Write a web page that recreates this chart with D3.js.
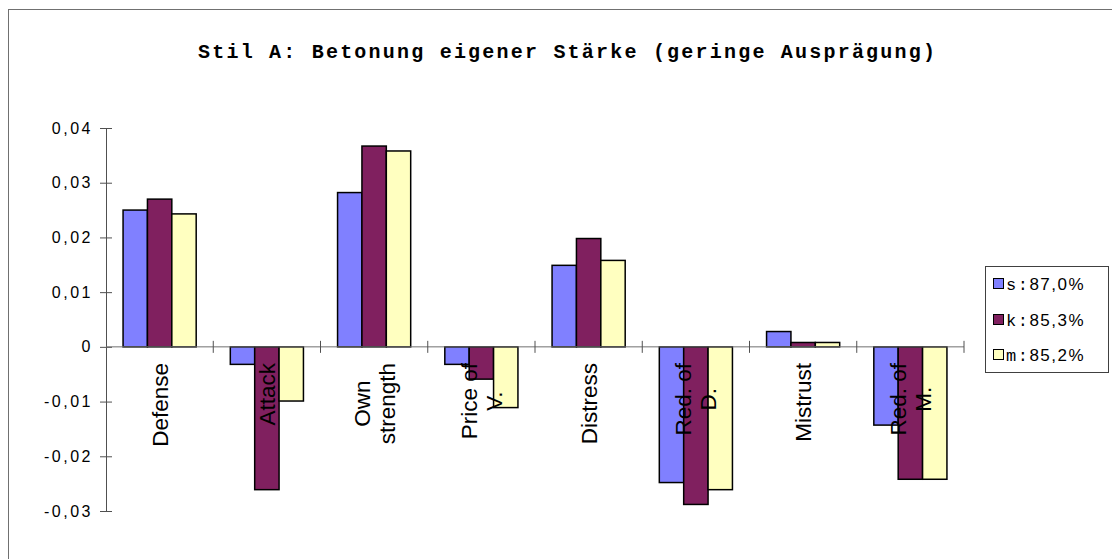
<!DOCTYPE html>
<html>
<head>
<meta charset="utf-8">
<script src="https://cdn.jsdelivr.net/npm/d3@7"></script>
<style>
  body { margin: 0; background: #fff; }
  svg { display: block; }
</style>
</head>
<body>
<div id="chart"></div>
<script>
// data
const categories = ["Defense", "Attack", "Own strength", "Price of V.", "Distress", "Red. of D.", "Mistrust", "Red. of M."];
const categoryLines = [["Defense"], ["Attack"], ["Own", "strength"], ["Price of", "V."], ["Distress"], ["Red. of", "D."], ["Mistrust"], ["Red. of", "M."]];
const seriesKeys = ["s", "k", "m"];
const seriesLabels = [["s:", "87,0%"], ["k:", "85,3%"], ["m:", "85,2%"]];
const seriesColors = ["#8080ff", "#80205f", "#ffffc0"];
const valuesS = [0.025, -0.0032, 0.0282, -0.0032, 0.0149, -0.0248, 0.0028, -0.0143];
const valuesK = [0.027, -0.0261, 0.0367, -0.0059, 0.0198, -0.0288, 0.0008, -0.0242];
const valuesM = [0.0243, -0.0099, 0.0358, -0.0111, 0.0158, -0.0261, 0.0008, -0.0242];
const yTicks = [0.04, 0.03, 0.02, 0.01, 0, -0.01, -0.02, -0.03];
const titleText = "Stil A: Betonung eigener Stärke (geringe Ausprägung)";

const W = 1112, H = 559;
const svg = d3.select("#chart").append("svg")
    .attr("width", W)
    .attr("height", H);

// chart area border (right and bottom edges fall outside the picture)
svg.append("rect")
   .attr("x", 8.5).attr("y", 9.5)
   .attr("width", 1200).attr("height", 700)
   .attr("fill", "#fff")
   .attr("stroke", "#707070");

svg.append("text")
   .attr("x", 198).attr("y", 58)
   .attr("font-family", "Liberation Mono, monospace")
   .attr("font-weight", "bold")
   .attr("font-size", 20)
   .attr("textLength", 737)
   .attr("lengthAdjust", "spacing")
   .text(titleText);

const x0 = d3.scaleBand().domain(categories).range([106, 964]).paddingInner(0).paddingOuter(0);
const x1 = d3.scaleBand().domain(seriesKeys).range([0, x0.bandwidth()]).paddingInner(0).paddingOuter(0.7);
const y = d3.scaleLinear().domain([-0.03, 0.04]).range([511, 128]);

const rows = categories.map((c, i) => ({ cat: c, vals: [valuesS[i], valuesK[i], valuesM[i]] }));

// bars
const groups = svg.append("g").selectAll("g")
   .data(rows).join("g")
   .attr("transform", d => `translate(${x0(d.cat)},0)`);

groups.selectAll("rect")
   .data(d => d.vals.map((v, j) => ({ key: seriesKeys[j], v, j })))
   .join("rect")
   .attr("x", d => x1(d.key))
   .attr("width", x1.bandwidth())
   .attr("y", d => y(Math.max(0, d.v)))
   .attr("height", d => Math.abs(y(d.v) - y(0)))
   .attr("fill", d => seriesColors[d.j])
   .attr("stroke", "#000")
   .attr("stroke-width", 1.5);

// y axis
const yAxis = svg.append("g")
   .attr("transform", "translate(106,0)")
   .call(d3.axisLeft(y).tickValues(yTicks).tickSizeInner(6).tickSizeOuter(0));
yAxis.select(".domain").attr("stroke", "#505050");
yAxis.selectAll(".tick line").attr("x1", -6).attr("x2", 6).attr("stroke", "#505050");
yAxis.selectAll(".tick text")
   .attr("x", -13)
   .attr("font-family", "Liberation Sans, Arial, sans-serif")
   .attr("font-size", 16)
   .attr("letter-spacing", "2.5px")
   .attr("fill", "#000")
   .text(d => d === 0 ? "0" : d3.format(".2f")(d).replace(".", ",").replace("−", "-"));

// x axis along zero
const xAxis = svg.append("g")
   .attr("transform", `translate(0,${y(0)})`);
xAxis.append("line")
   .attr("x1", 106).attr("x2", 964)
   .attr("stroke", "#707070");
xAxis.selectAll(".ctick")
   .data(categories.slice(1).map(c => x0(c)).concat([x0(categories[categories.length - 1]) + x0.bandwidth()]))
   .join("line")
   .attr("class", "ctick")
   .attr("x1", d => d).attr("x2", d => d)
   .attr("y1", -6).attr("y2", 6)
   .attr("stroke", "#505050");

// category labels, rotated, drawn over the bars
const labelTop = 363, lineH = 25;
const labels = svg.append("g").selectAll("g")
   .data(categoryLines.map((lines, i) => ({ lines, cat: categories[i] })))
   .join("g")
   .attr("transform", d => `translate(${x0(d.cat) + x0.bandwidth() / 2},${labelTop}) rotate(-90)`);

labels.each(function(d) {
    const g = d3.select(this);
    const texts = d.lines.map((ln, i) => g.append("text")
        .attr("font-family", "Liberation Sans, Arial, sans-serif")
        .attr("font-size", 22.5)
        .attr("text-anchor", "middle")
        .attr("y", (i - (d.lines.length - 1) / 2) * lineH)
        .attr("dy", "0.36em")
        .text(ln));
    const maxLen = d3.max(texts, t => t.node().getComputedTextLength());
    texts.forEach(t => t.attr("x", -maxLen / 2));
});

// legend
const legend = svg.append("g");
legend.append("rect")
   .attr("x", 985.5).attr("y", 266.5)
   .attr("width", 123).attr("height", 106)
   .attr("fill", "#fff")
   .attr("stroke", "#404040");

const rowY = [284, 320, 355];
seriesLabels.forEach((lab, i) => {
    legend.append("rect")
       .attr("x", 993.5).attr("y", rowY[i] - 5.5)
       .attr("width", 10).attr("height", 10)
       .attr("fill", seriesColors[i])
       .attr("stroke", "#000");
    const t = legend.append("text")
       .attr("x", 1006).attr("y", rowY[i] + 6)
       .attr("font-size", 17)
       .attr("letter-spacing", "1.5px");
    t.append("tspan").attr("font-family", "Liberation Mono, monospace").text(lab[0]);
    t.append("tspan").attr("font-family", "Liberation Sans, Arial, sans-serif").text(lab[1]);
});
</script>
</body>
</html>
